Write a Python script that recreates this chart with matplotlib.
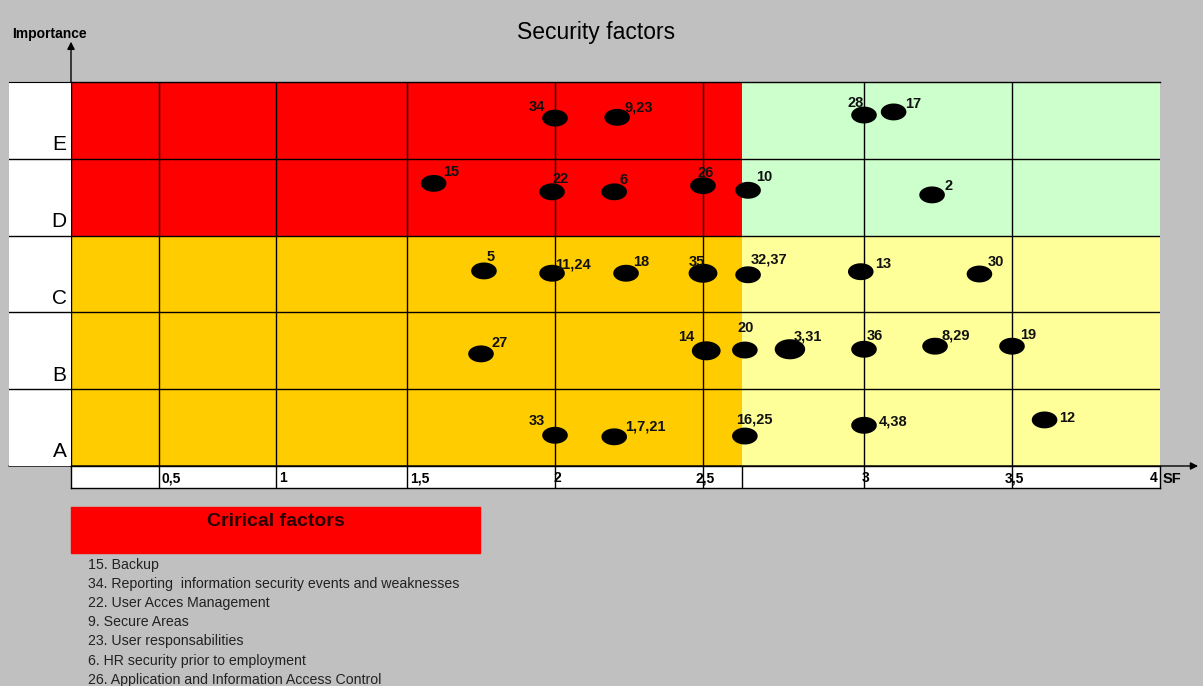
import numpy as np
import matplotlib
matplotlib.use('Agg')
import matplotlib.pyplot as plt
from matplotlib.path import Path
from matplotlib.patches import Rectangle

plt.rcParams['font.family'] = ['Liberation Sans', 'DejaVu Sans']

# ========== data ==========
ROW_LABELS = ['A', 'B', 'C', 'D', 'E']
X_TICKS = [0.5, 1, 1.5, 2, 2.5, 3, 3.5, 4]
X_TICK_LABELS = ['0,5', '1', '1,5', '2', '2,5', '3', '3,5', '4']
CRITICAL_SF = 2.62      # limit of the red zone on the SF axis
CRITICAL_ROW = 3        # rows D and E are "important"

FACTOR_LABELS = ['34', '9,23', '28', '17',
                 '15', '22', '6', '26', '10', '2',
                 '5', '11,24', '18', '35', '32,37', '13', '30',
                 '27', '14', '20', '3,31', '36', '8,29', '19',
                 '33', '1,7,21', '16,25', '4,38', '12']
SF_VALUES = [2.0, 2.21, 3.0, 3.10,
             1.59, 1.99, 2.20, 2.50, 2.64, 3.23,
             1.76, 1.99, 2.24, 2.50, 2.64, 2.99, 3.39,
             1.75, 2.51, 2.63, 2.77, 3.0, 3.24, 3.50,
             2.0, 2.20, 2.63, 3.0, 3.61]
IMPORTANCE_VALUES = [4.53, 4.54, 4.57, 4.61,
                     3.68, 3.57, 3.57, 3.65, 3.59, 3.53,
                     2.54, 2.51, 2.51, 2.51, 2.49, 2.53, 2.50,
                     1.46, 1.50, 1.51, 1.52, 1.52, 1.56, 1.56,
                     0.40, 0.38, 0.39, 0.53, 0.60]

CRITICAL_ITEMS = ['15. Backup',
                  '34. Reporting  information security events and weaknesses',
                  '22. User Acces Management',
                  '9. Secure Areas',
                  '23. User responsabilities',
                  '6. HR security prior to employment',
                  '26. Application and Information Access Control']

# ========== layout ==========
W, H = 1203, 686
# the SF axis of the original drawing is not evenly spaced (pixels from the origin)
SCALE_VALUES = [0, 0.5, 1, 1.5, 2, 2.5, 3, 3.5, 4]
SCALE_PIX = [0, 88, 205, 336, 484, 632, 793, 941, 1089]

def fwd(v):
    return np.interp(v, SCALE_VALUES, SCALE_PIX)

def inv(p):
    return np.interp(p, SCALE_PIX, SCALE_VALUES)

# label offsets in pixels (dx, dy, ha)
LABEL_OFFSETS = {
    '34': (-10, 11, 'right'), '9,23': (7, 10, 'left'), '28': (0, 12, 'right'),
    '17': (12, 8, 'left'), '15': (9, 11, 'left'), '22': (0, 13, 'left'),
    '6': (5, 12, 'left'), '26': (-6, 13, 'left'), '10': (8, 13, 'left'),
    '2': (12, 9, 'left'), '5': (3, 14, 'left'), '11,24': (3, 9, 'left'),
    '18': (7, 11, 'left'), '35': (-14, 11, 'left'), '32,37': (3, 15, 'left'),
    '13': (14, 8, 'left'), '30': (8, 12, 'left'), '27': (10, 11, 'left'),
    '14': (-12, 14, 'right'), '20': (-7, 22, 'left'), '3,31': (4, 13, 'left'),
    '36': (3, 13, 'left'), '8,29': (6, 11, 'left'), '19': (8, 11, 'left'),
    '33': (-10, 14, 'right'), '1,7,21': (11, 10, 'left'), '16,25': (-9, 17, 'left'),
    '4,38': (15, 4, 'left'), '12': (15, 2, 'left'),
}
# a few blobs are drawn wider in the original
WIDE = {'35': 430, '14': 430, '3,31': 480}

def fig_rect(x0, y0, x1, y1):
    # pixel box (top-left origin) -> figure fraction [left, bottom, width, height]
    return [x0 / W, 1 - y1 / H, (x1 - x0) / W, (y1 - y0) / H]

GRAY = '#c0c0c0'
RED = '#ff0000'
ORANGE = '#ffcc00'
GREEN = '#ccffcc'
YELLOW = '#ffff99'
LABEL_FONT = ['Liberation Sans Narrow', 'Liberation Sans', 'DejaVu Sans']

fig = plt.figure(figsize=(W / 100, H / 100), dpi=100, facecolor=GRAY)

# ========== main grid ==========
ax = fig.add_axes(fig_rect(71, 82, 1160, 466))
ax.set_xscale('function', functions=(fwd, inv))
ax.set_xlim(0, 4)
ax.set_ylim(0, len(ROW_LABELS))
ax.set_facecolor('white')

top = len(ROW_LABELS)
split = CRITICAL_ROW / top
ax.axvspan(0, CRITICAL_SF, ymin=split, ymax=1, color=RED, lw=0, zorder=0)
ax.axvspan(0, CRITICAL_SF, ymin=0, ymax=split, color=ORANGE, lw=0, zorder=0)
ax.axvspan(CRITICAL_SF, 4, ymin=split, ymax=1, color=GREEN, lw=0, zorder=0)
ax.axvspan(CRITICAL_SF, 4, ymin=0, ymax=split, color=YELLOW, lw=0, zorder=0)

for v in X_TICKS[:-1]:
    ax.axvline(v, color='black', lw=1, zorder=1)
for r in range(1, top):
    ax.axhline(r, color='black', lw=1, zorder=1)

ax.set_xticks([])
ax.set_yticks([])
for s in ['right', 'bottom']:
    ax.spines[s].set_visible(False)
ax.spines['top'].set_linewidth(1)
ax.spines['left'].set_linewidth(1)

# ellipse marker
t = np.linspace(0, 2 * np.pi, 60)
ellipse = Path(np.column_stack([np.cos(t), 0.66 * np.sin(t)]), closed=True)
sizes = [WIDE.get(lab, 340) for lab in FACTOR_LABELS]
ax.scatter(SF_VALUES, IMPORTANCE_VALUES, marker=ellipse, s=sizes,
           color='black', lw=0, zorder=3)

for lab, x, y in zip(FACTOR_LABELS, SF_VALUES, IMPORTANCE_VALUES):
    dx, dy, ha = LABEL_OFFSETS.get(lab, (8, 11, 'left'))
    ax.annotate(lab, (x, y), xytext=(dx, dy), textcoords='offset pixels',
                ha=ha, va='center', fontsize=10.5, fontweight='bold',
                family=LABEL_FONT, color='#111111', zorder=4)

# axis arrows
ax.annotate('', xy=(0, 1.105), xytext=(0, 0), xycoords='axes fraction',
            arrowprops=dict(arrowstyle='-|>', color='black', lw=1,
                            mutation_scale=11, shrinkA=0, shrinkB=0),
            annotation_clip=False)
ax.annotate('', xy=(1.035, 0), xytext=(-0.057, 0), xycoords='axes fraction',
            arrowprops=dict(arrowstyle='-|>', color='black', lw=1,
                            mutation_scale=11, shrinkA=0, shrinkB=0),
            annotation_clip=False)

# ========== row labels column ==========
lab_ax = fig.add_axes(fig_rect(9, 82, 71, 466), sharey=ax)
lab_ax.set_facecolor('white')
lab_ax.set_xlim(0, 1)
for r in range(1, top):
    lab_ax.axhline(r, color='black', lw=1)
for r, name in enumerate(ROW_LABELS):
    lab_ax.text(0.93, r + 0.06, name, ha='right', va='bottom', fontsize=15)
lab_ax.set_xticks([])
lab_ax.tick_params(left=False, labelleft=False)
for s in ['left', 'right', 'bottom']:
    lab_ax.spines[s].set_visible(False)

# ========== tick label strip ==========
strip = fig.add_axes(fig_rect(71, 466, 1160, 488), sharex=ax)
strip.set_facecolor('white')
strip.set_ylim(0, 1)
for v in X_TICKS[:-1] + [CRITICAL_SF]:
    strip.axvline(v, color='black', lw=1)
for v, txt in zip(X_TICKS, X_TICK_LABELS):
    if v < 2:
        ha, off = 'left', 3
    elif v == 4:
        ha, off = 'right', -2
    else:
        ha, off = 'center', 2
    strip.annotate(txt, (v, 0.45), xytext=(off, 0), textcoords='offset pixels',
                   ha=ha, va='center', fontsize=10, fontweight='bold',
                   family=LABEL_FONT)
strip.set_xticks([])
strip.set_yticks([])
strip.tick_params(which='both', bottom=False, left=False,
                  labelbottom=False, labelleft=False)
for s in strip.spines.values():
    s.set_linewidth(1)

# ========== titles ==========
fig.text(596 / W, 1 - 32 / H, 'Security factors', ha='center', va='center',
         fontsize=16.5)
fig.text(12 / W, 1 - 34 / H, 'Importance', ha='left', va='center',
         fontsize=10, fontweight='bold')
fig.text(1163 / W, 1 - 479 / H, 'SF', ha='left', va='center',
         fontsize=10.5, fontweight='bold', family=LABEL_FONT)

# ========== critical factors list ==========
fig.patches.append(Rectangle((71 / W, 1 - 553 / H), 409 / W, 46 / H,
                             transform=fig.transFigure, color=RED, zorder=0))
fig.text(276 / W, 1 - 521 / H, 'Crirical factors', ha='center', va='center',
         fontsize=14, fontweight='bold', color='#2a0000')
for i, item in enumerate(CRITICAL_ITEMS):
    fig.text(88 / W, 1 - (565 + 19.1 * i) / H, item, ha='left', va='center',
             fontsize=10.2, color='#222222')

fig.savefig('out.png', dpi=100, facecolor=GRAY)
